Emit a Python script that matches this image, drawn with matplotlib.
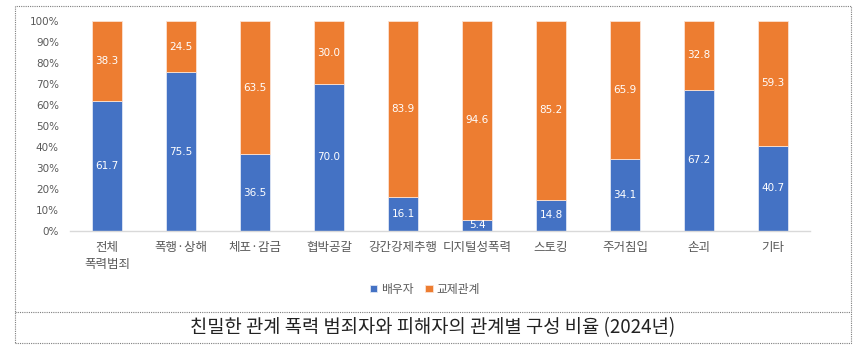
import matplotlib
matplotlib.use("Agg")
import matplotlib.pyplot as plt
from matplotlib.patches import Rectangle
from matplotlib.lines import Line2D

plt.rcParams['font.family'] = ['Noto Sans CJK KR', 'DejaVu Sans']

categories = ['전체\n폭력범죄', '폭행·상해', '체포·감금', '협박공갈', '강간강제추행', '디지털성폭력',
              '스토킹', '주거침입', '손괴', '기타']
spouse = [61.7, 75.5, 36.5, 70.0, 16.1, 5.4, 14.8, 34.1, 67.2, 40.7]
dating = [38.3, 24.5, 63.5, 30.0, 83.9, 94.6, 85.2, 65.9, 32.8, 59.3]
series_names = ['배우자', '교제관계']
yticks = [0, 10, 20, 30, 40, 50, 60, 70, 80, 90, 100]
title = '친밀한 관계 폭력 범죄자와 피해자의 관계별 구성 비율 (2024년)'

W, H = 860, 355
fig = plt.figure(figsize=(W / 100, H / 100), dpi=100)

def fx(px):
    return px / W

def fy(py):
    return 1 - py / H

ax = fig.add_axes([fx(70), fy(231), fx(810) - fx(70), fy(21) - fy(231)])

blue = '#4472C4'
orange = '#ED7D31'
x = list(range(len(categories)))
b1 = ax.bar(x, spouse, width=0.4, color=blue, edgecolor='#dfe6f5', linewidth=0.6, label=series_names[0])
b2 = ax.bar(x, dating, width=0.4, bottom=spouse, color=orange, edgecolor='#fbe2d2', linewidth=0.6, label=series_names[1])

for i in x:
    ax.text(i, spouse[i] / 2, f'{spouse[i]:.1f}', ha='center', va='center', color='white', fontsize=7.5,
            family=['DejaVu Sans'])
    ax.text(i, spouse[i] + dating[i] / 2, f'{dating[i]:.1f}', ha='center', va='center', color='white',
            fontsize=7.5, family=['DejaVu Sans'])

ax.set_xlim(-0.5, len(categories) - 0.5)
ax.set_ylim(0, 100)
ax.set_yticks(yticks)
ax.set_yticklabels([f'{t}%' for t in yticks], fontsize=7.5, color='#595959', family=['DejaVu Sans'])
ax.set_xticks(x)
ax.set_xticklabels(categories, fontsize=9, color='#595959', linespacing=1.45)
ax.tick_params(axis='both', length=0)
ax.tick_params(axis='x', pad=7)
ax.tick_params(axis='y', pad=8)
for s in ['top', 'right', 'left']:
    ax.spines[s].set_visible(False)
ax.spines['bottom'].set_color('#d9d9d9')
ax.spines['bottom'].set_linewidth(1)

leg = fig.legend(handles=[b1, b2], labels=series_names, loc='center', bbox_to_anchor=(fx(425), fy(289)),
                 ncol=2, frameon=False, fontsize=8.5, handlelength=0.6, handleheight=0.6,
                 handletextpad=0.3, columnspacing=1.0)
for t in leg.get_texts():
    t.set_color('#595959')

# outer dashed frame
fig.add_artist(Rectangle((fx(15), fy(343)), fx(851) - fx(15), fy(6) - fy(343), transform=fig.transFigure,
                         fill=False, edgecolor='#7f7f7f', linewidth=0.8, linestyle=(0, (1, 1))))
fig.add_artist(Line2D([fx(15), fx(851)], [fy(312), fy(312)], transform=fig.transFigure,
                      color='#7f7f7f', linewidth=0.8, linestyle=(0, (1, 1))))

fig.text(fx(433), fy(328), title, ha='center', va='center', fontsize=13.5, color='#222222')

fig.savefig('out.png', dpi=100)
